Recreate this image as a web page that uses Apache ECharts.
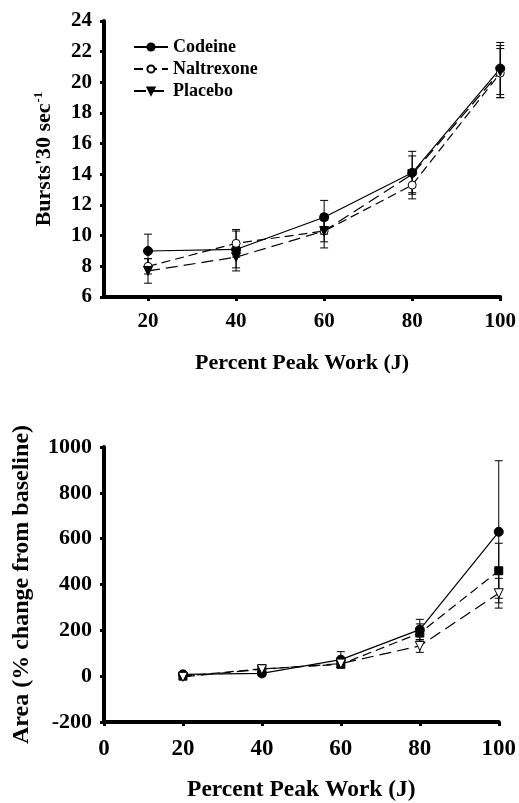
<!DOCTYPE html>
<html><head><meta charset="utf-8">
<script src="https://cdn.jsdelivr.net/npm/echarts@6/dist/echarts.min.js"></script>
<style>html,body{margin:0;padding:0;background:#fff}#c{width:519px;height:803px}</style>
</head><body><div id="c"></div><script>
// ---- data ----
const workX = [20, 40, 60, 80, 100];
const seriesNames = ['Codeine', 'Naltrexone', 'Placebo'];

// Top panel: Bursts·30 sec^-1
const burstsCodeine    = [9.0, 9.1, 11.2, 14.1, 20.9];
const burstsNaltrexone = [8.0, 9.5, 10.3, 13.3, 20.6];
const burstsPlacebo    = [7.7, 8.6, 10.3, 14.0, 20.7];
const burstsCodeineErr    = [1.1, 1.2, 1.1, 1.4, 1.7];
const burstsNaltrexoneErr = [0.5, 0.9, 0.7, 0.9, 1.6];
const burstsPlaceboErr    = [0.8, 0.9, 1.1, 1.2, 1.7];

// Bottom panel: Area (% change from baseline)
const areaCodeine    = [8, 12, 72, 203, 630];
const areaNaltrexone = [0, 32, 52, 188, 460];
const areaPlacebo    = [-3, 30, 55, 132, 362];
const areaCodeineErr    = [10, 12, 35, 45, 310];
const areaNaltrexoneErr = [8, 18, 15, 40, 120];
const areaPlaceboErr    = [8, 15, 12, 28, 65];

const topYTicks = {min: 6, max: 24, step: 2};
const botYTicks = {min: -200, max: 1000, step: 200};

// ---- helpers ----
const FONT = 'Liberation Serif';
const downTri = 'path://M0,0 L10,0 L5,10 Z';
function pts(vals) { return workX.map((x, i) => [x, vals[i]]); }
function errs(vals, e) { return workX.map((x, i) => [x, vals[i] - e[i], vals[i] + e[i]]); }
function errRender(params, api) {
  const x = api.value(0), lo = api.value(1), hi = api.value(2);
  const a = api.coord([x, lo]), b = api.coord([x, hi]);
  const w = 4;
  const style = {stroke: '#000', lineWidth: 1};
  return {type: 'group', children: [
    {type: 'line', shape: {x1: a[0], y1: a[1], x2: b[0], y2: b[1]}, style: style},
    {type: 'line', shape: {x1: b[0] - w, y1: b[1], x2: b[0] + w, y2: b[1]}, style: style},
    {type: 'line', shape: {x1: a[0] - w, y1: a[1], x2: a[0] + w, y2: a[1]}, style: style}
  ]};
}
function errSeries(idx, vals, e) {
  return {type: 'custom', xAxisIndex: idx, yAxisIndex: idx, data: errs(vals, e),
    renderItem: errRender, encode: {x: 0, y: [1, 2]}, z: 1, silent: true};
}
function lineSeries(idx, name, vals, symbol, filled, dash, size) {
  return {type: 'line', name: name, xAxisIndex: idx, yAxisIndex: idx, data: pts(vals),
    symbol: symbol, symbolSize: size || 8, showAllSymbol: true, z: 3,
    lineStyle: {color: '#000', width: 1.2, type: dash},
    itemStyle: {color: filled ? '#000' : '#fff', borderColor: '#000', borderWidth: 1}};
}
const axisLineStyle = {color: '#000', width: 4};
const tickStyle = {show: true, length: 4, lineStyle: {color: '#000', width: 3}};
function lbl(size) { return {color: '#000', fontFamily: FONT, fontWeight: 'bold', fontSize: size}; }
const plain = v => String(v);

const chart = echarts.init(document.getElementById('c'), null, {renderer: 'canvas'});
chart.setOption({
  animation: false,
  backgroundColor: '#fff',
  legend: {
    data: seriesNames, orient: 'vertical', left: 128, top: 33,
    itemWidth: 34, itemHeight: 9, itemGap: 4,
    textStyle: {color: '#000', fontFamily: FONT, fontWeight: 'bold', fontSize: 18}
  },
  grid: [
    {left: 104, right: 15, top: 21, height: 276},
    {left: 104, right: 19, top: 447, height: 276}
  ],
  xAxis: [
    {gridIndex: 0, type: 'value', min: 10, max: 100,
      axisLine: {show: true, onZero: false, lineStyle: axisLineStyle},
      axisTick: Object.assign({customValues: workX}, tickStyle),
      axisLabel: Object.assign({customValues: workX, margin: 14, formatter: plain}, lbl(21)),
      splitLine: {show: false},
      name: 'Percent Peak Work (J)', nameLocation: 'middle', nameGap: 55, nameTextStyle: lbl(22)},
    {gridIndex: 1, type: 'value', min: 0, max: 100, interval: 20,
      axisLine: {show: true, onZero: false, lineStyle: axisLineStyle},
      axisTick: tickStyle,
      axisLabel: Object.assign({margin: 16, formatter: plain}, lbl(23)),
      splitLine: {show: false},
      name: 'Percent Peak Work (J)', nameLocation: 'middle', nameGap: 56, nameTextStyle: lbl(23.5)}
  ],
  yAxis: [
    {gridIndex: 0, type: 'value', min: topYTicks.min, max: topYTicks.max, interval: topYTicks.step,
      axisLine: {show: true, onZero: false, lineStyle: axisLineStyle},
      axisTick: tickStyle,
      axisLabel: Object.assign({margin: 12, formatter: plain}, lbl(21)),
      splitLine: {show: false},
      name: "{b|Bursts'30 sec}{s|-1}", nameLocation: 'middle', nameGap: 48,
      nameTextStyle: Object.assign({rich: {
        b: lbl(22),
        s: Object.assign({verticalAlign: 'top', padding: [0, 0, 11, 1]}, lbl(13))
      }}, lbl(22))},
    {gridIndex: 1, type: 'value', min: botYTicks.min, max: botYTicks.max, interval: botYTicks.step,
      axisLine: {show: true, onZero: false, lineStyle: axisLineStyle},
      axisTick: tickStyle,
      axisLabel: Object.assign({margin: 12, formatter: plain}, lbl(22)),
      splitLine: {show: false},
      name: 'Area (% change from baseline)', nameLocation: 'middle', nameGap: 70, nameTextStyle: lbl(24)}
  ],
  series: [
    errSeries(0, burstsCodeine, burstsCodeineErr),
    errSeries(0, burstsNaltrexone, burstsNaltrexoneErr),
    errSeries(0, burstsPlacebo, burstsPlaceboErr),
    lineSeries(0, 'Codeine', burstsCodeine, 'circle', true, 'solid', 9),
    lineSeries(0, 'Naltrexone', burstsNaltrexone, 'circle', false, [9, 5], 8),
    lineSeries(0, 'Placebo', burstsPlacebo, downTri, true, [12, 6], 9),
    errSeries(1, areaCodeine, areaCodeineErr),
    errSeries(1, areaNaltrexone, areaNaltrexoneErr),
    errSeries(1, areaPlacebo, areaPlaceboErr),
    lineSeries(1, 'Codeine ', areaCodeine, 'circle', true, 'solid', 9),
    lineSeries(1, 'Naltrexone ', areaNaltrexone, 'rect', true, [9, 5], 8),
    lineSeries(1, 'Placebo ', areaPlacebo, downTri, false, [12, 6], 9)
  ]
});
</script></body></html>
